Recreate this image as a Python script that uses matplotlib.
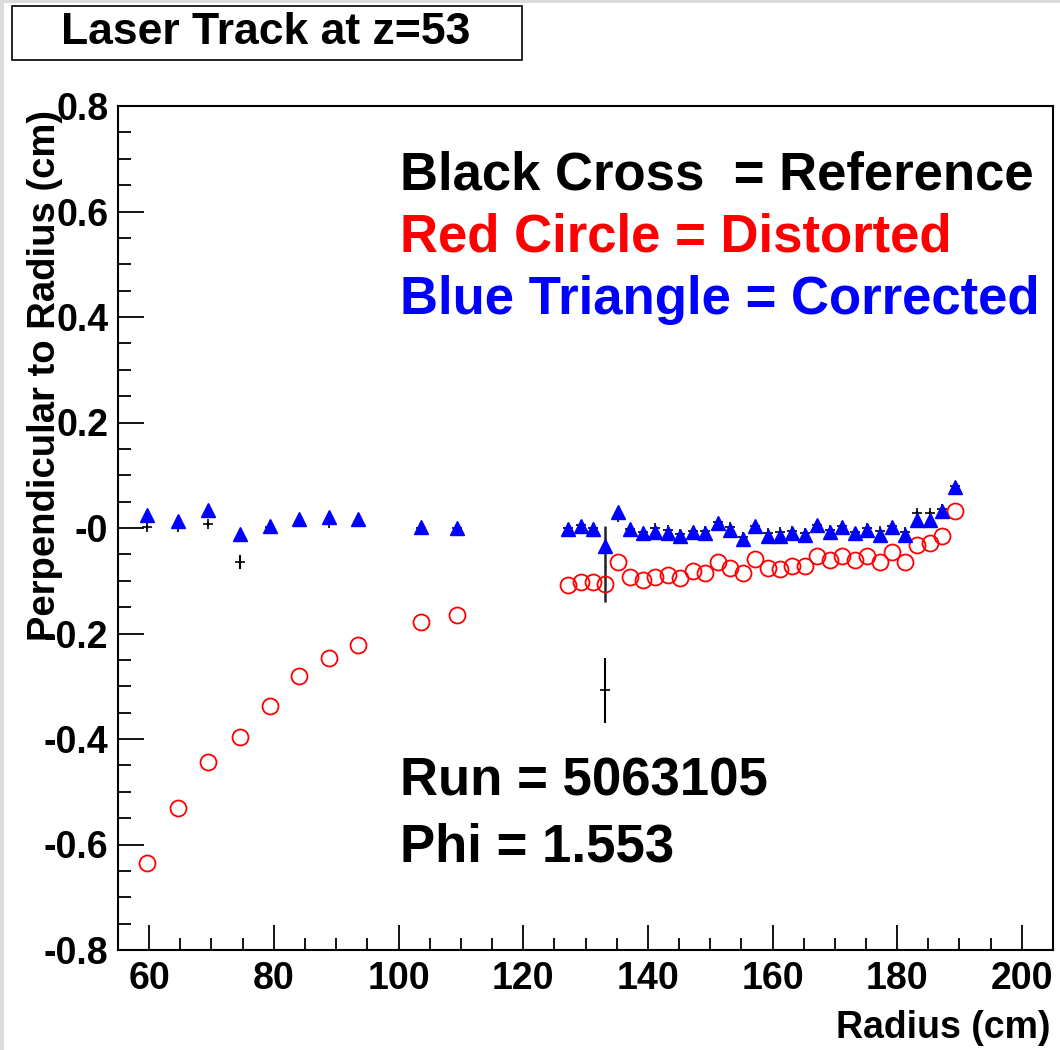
import matplotlib
matplotlib.use("Agg")
import matplotlib.pyplot as plt
from matplotlib.ticker import MultipleLocator, FixedLocator
from matplotlib.patches import Rectangle

plt.rcParams['font.family'] = ['Liberation Sans', 'DejaVu Sans']
plt.rcParams['font.weight'] = 'bold'

# ---- data ----
radius = [59.6, 64.6, 69.5, 74.5, 79.4, 84.0, 88.8, 93.5, 103.6, 109.4,
          127.2, 129.2, 131.2, 133.2, 135.2, 137.2, 139.2, 141.2, 143.2, 145.2,
          147.2, 149.2, 151.2, 153.2, 155.2, 157.2, 159.2, 161.2, 163.2, 165.2,
          167.2, 169.2, 171.2, 173.2, 175.2, 177.2, 179.2, 181.2, 183.2, 185.2,
          187.2, 189.2]

reference = [0.002, 0.002, 0.007, -0.064, 0.002, 0.012, 0.009, 0.012, 0.000, 0.000,
             0.000, 0.006, 0.000, -0.308, 0.020, -0.002, -0.008, 0.000, -0.004, -0.012,
             -0.006, -0.006, 0.012, 0.002, -0.017, 0.004, -0.010, -0.008, -0.006, -0.010,
             0.006, -0.004, 0.004, -0.008, 0.000, -0.006, 0.003, -0.007, 0.028, 0.028,
             0.036, 0.080]
reference_err = [0.004, 0.004, 0.004, 0.013, 0.004, 0.004, 0.004, 0.004, 0.004, 0.004,
                 0.004, 0.004, 0.004, 0.061, 0.004, 0.004, 0.004, 0.004, 0.004, 0.004,
                 0.004, 0.004, 0.004, 0.004, 0.004, 0.004, 0.004, 0.004, 0.004, 0.004,
                 0.004, 0.004, 0.004, 0.004, 0.004, 0.004, 0.004, 0.004, 0.004, 0.004,
                 0.004, 0.004]

distorted = [-0.635, -0.531, -0.444, -0.396, -0.337, -0.281, -0.246, -0.222, -0.178, -0.165,
             -0.109, -0.102, -0.102, -0.106, -0.064, -0.092, -0.099, -0.092, -0.089, -0.095,
             -0.081, -0.086, -0.064, -0.075, -0.085, -0.059, -0.076, -0.078, -0.072, -0.072,
             -0.054, -0.061, -0.054, -0.061, -0.053, -0.064, -0.046, -0.064, -0.032, -0.029,
             -0.015, 0.033]
distorted_err = [0.0] * 13 + [0.034] + [0.0] * 28

corrected = [0.025, 0.014, 0.035, -0.012, 0.004, 0.018, 0.020, 0.018, 0.001, 0.000,
             -0.001, 0.003, -0.001, -0.035, 0.031, -0.001, -0.010, -0.007, -0.010, -0.016,
             -0.007, -0.010, 0.009, -0.003, -0.020, 0.004, -0.015, -0.015, -0.010, -0.013,
             0.006, -0.007, 0.001, -0.010, -0.003, -0.013, 0.001, -0.013, 0.015, 0.015,
             0.033, 0.077]
corrected_err = [0.0] * 13 + [0.038] + [0.0] * 28

x_ticks = [60, 80, 100, 120, 140, 160, 180, 200]
y_ticks = [-0.8, -0.6, -0.4, -0.2, 0.0, 0.2, 0.4, 0.6, 0.8]
y_tick_labels = ['-0.8', '-0.6', '-0.4', '-0.2', '-0', '0.2', '0.4', '0.6', '0.8']

W, H = 1060, 1050
fig = plt.figure(figsize=(W / 100, H / 100), dpi=100)
fig.patch.set_facecolor('white')

# light grey screenshot border
fig.patches.append(Rectangle((0, 0), 4 / W, 1, transform=fig.transFigure,
                             facecolor='#dcdcdc', edgecolor='none', zorder=0))
fig.patches.append(Rectangle((0, 1 - 3 / H), 1, 3 / H, transform=fig.transFigure,
                             facecolor='#dcdcdc', edgecolor='none', zorder=0))

ax = fig.add_axes([118 / W, 1 - 950 / H, (1053 - 118) / W, (950 - 106) / H])
ax.set_xlim(55, 205)
ax.set_ylim(-0.8, 0.8)

# reference (black crosses with error bars)
ax.errorbar(radius, reference, yerr=reference_err, fmt='+', color='black',
            ms=7, mew=1.2, elinewidth=1.5, capsize=0, zorder=3)
# distorted (red open circles)
ax.errorbar(radius, distorted, yerr=distorted_err, fmt='none', ecolor='#222222',
            elinewidth=1.8, capsize=0, zorder=2)
ax.plot(radius, distorted, 'o', mfc='none', mec='red', ms=11.5, mew=1.3,
        linestyle='none', zorder=4)
# corrected (blue triangles)
ax.errorbar(radius, corrected, yerr=corrected_err, fmt='none', ecolor='#222222',
            elinewidth=1.8, capsize=0, zorder=2)
ax.plot(radius, corrected, '^', color='blue', mec='blue', ms=10,
        linestyle='none', zorder=5)

# ticks
ax.xaxis.set_major_locator(FixedLocator(x_ticks))
ax.xaxis.set_minor_locator(MultipleLocator(5))
ax.yaxis.set_major_locator(FixedLocator(y_ticks))
ax.yaxis.set_minor_locator(MultipleLocator(0.05))
ax.set_yticklabels(y_tick_labels)
ax.tick_params(which='both', direction='in', top=False, right=False,
               labelsize=27, width=1.3, colors='black')
ax.tick_params(axis='x', which='major', length=18, pad=8)
ax.tick_params(axis='x', which='minor', length=9)
ax.tick_params(axis='y', which='major', length=19, pad=7)
ax.tick_params(axis='y', which='minor', length=9.5)
for lab in ax.get_xticklabels() + ax.get_yticklabels():
    lab.set_fontweight('bold')
for sp in ax.spines.values():
    sp.set_linewidth(1.5)

# axis titles
fig.text(1050 / W, 1 - 1028 / H, 'Radius (cm)', ha='right', va='center',
         fontsize=27, fontweight='bold')
fig.text(45 / W, 1 - 375 / H, 'Perpendicular to Radius (cm)', ha='center',
         va='center', rotation=90, fontsize=27.5, fontweight='bold')

# in-plot annotations
ax.text(400 / W, 1 - 175 / H, 'Black Cross  = Reference', transform=fig.transFigure,
        ha='left', va='center', fontsize=38, fontweight='bold', color='black')
ax.text(400 / W, 1 - 238 / H, 'Red Circle = Distorted', transform=fig.transFigure,
        ha='left', va='center', fontsize=38, fontweight='bold', color='red')
ax.text(400 / W, 1 - 300 / H, 'Blue Triangle = Corrected', transform=fig.transFigure,
        ha='left', va='center', fontsize=38, fontweight='bold', color='blue')
ax.text(400 / W, 1 - 782 / H, 'Run = 5063105', transform=fig.transFigure,
        ha='left', va='center', fontsize=38, fontweight='bold', color='black')
ax.text(400 / W, 1 - 848 / H, 'Phi = 1.553', transform=fig.transFigure,
        ha='left', va='center', fontsize=38, fontweight='bold', color='black')

# title box
fig.patches.append(Rectangle((12 / W, 1 - 60 / H), (522 - 12) / W, (60 - 6) / H,
                             transform=fig.transFigure, facecolor='white',
                             edgecolor='black', linewidth=1.2, zorder=1))
fig.text(266 / W, 1 - 33 / H, 'Laser Track at z=53', ha='center', va='center',
         fontsize=32, fontweight='bold', zorder=2)

fig.savefig('out.png', dpi=100)
